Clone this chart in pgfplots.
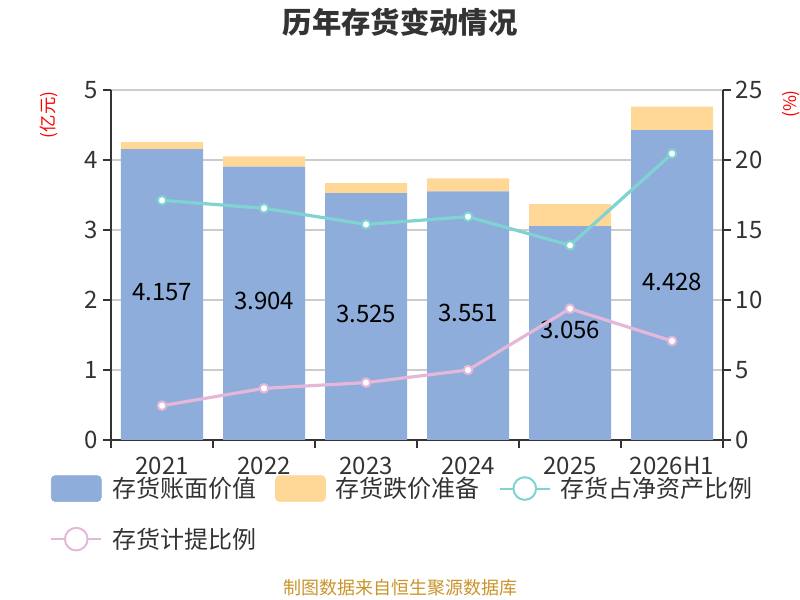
\documentclass[border=0pt]{standalone}
\usepackage{fontspec}
\setmainfont{Noto Sans CJK SC}
\usepackage{pgfplots}
\pgfplotsset{compat=1.18}
\usepackage{pgfplotstable}

\definecolor{barblue}{HTML}{8EADDA}
\definecolor{barorange}{HTML}{FFD897}
\definecolor{lineteal}{HTML}{80D3D3}
\definecolor{linepink}{HTML}{E5B8DA}
\definecolor{axisdark}{HTML}{333333}
\definecolor{gridgray}{HTML}{CCCCCC}
\definecolor{footcol}{HTML}{C9942B}

\pgfplotstableread{
x book prov
0 4.157 0.100
1 3.904 0.149
2 3.525 0.146
3 3.551 0.187
4 3.056 0.315
5 4.428 0.334
}\bars

\pgfplotstableread{
x share ratio
0 17.12 2.45
1 16.55 3.69
2 15.40 4.10
3 15.95 5.00
4 13.90 9.38
5 20.45 7.07
}\lines

\pgfplotsset{
  base/.style={
    scale only axis, width=459pt, height=262.5pt,
    at={(83.25pt,120pt)}, anchor=south west,
    xmin=-0.5, xmax=5.5,
    /pgf/number format/assume math mode=true,
    tick label style={font=\fontsize{18}{20}\selectfont, text=axisdark},
    tick align=outside,
    major tick length=6pt, minor tick length=6pt,
    tick style={axisdark, line width=1.5pt},
  }
}

\begin{document}
\begin{tikzpicture}
\path[use as bounding box] (0,0) rectangle (600pt,450pt);

% bars
\begin{axis}[base,
  ybar stacked, bar width=61.5pt,
  ymin=0, ymax=5, ytick={0,1,2,3,4,5},
  axis x line*=bottom, axis y line*=left,
  axis line style={-, axisdark, line width=1.5pt},
  xtick={0,1,2,3,4,5},
  xticklabels={2021,2022,2023,2024,2025,2026H1},
  major x tick style={draw=none},
  minor xtick={-0.5,0.5,1.5,2.5,3.5,4.5,5.5},
  xticklabel style={yshift=-3pt},
  ymajorgrids, grid style={gridgray, line width=1pt},
]
\addplot[fill=barblue, draw=none] table[x=x, y=book] {\bars};
\addplot[fill=barorange, draw=none] table[x=x, y=prov] {\bars};
\end{axis}

% value labels
\begin{axis}[base, hide axis, ymin=0, ymax=5]
\addplot[only marks, mark=none, nodes near coords,
  point meta=explicit symbolic,
  nodes near coords style={anchor=center, yshift=2pt, font=\fontsize{18}{20}\selectfont, text=black}]
  table[x=x, y expr=\thisrow{book}/2, meta=book] {\bars};
\end{axis}

% lines
\begin{axis}[base,
  ymin=0, ymax=25, ytick={0,5,10,15,20,25},
  axis y line*=right, axis x line=none,
  axis line style={-, axisdark, line width=1.5pt},
  legend columns=3, legend cell align=left,
  legend style={at={(axis description cs:-0.0997,-0.1)}, anchor=north west,
    draw=none, fill=none, inner sep=0pt,
    font=\fontsize{18}{20}\selectfont, text=axisdark,
    /tikz/every odd column/.append style={column sep=7.5pt},
    /tikz/every even column/.append style={column sep=14.25pt},
    row sep=18.75pt, nodes={inner sep=0pt}},
]
\addlegendimage{legend image code/.code={\fill[barblue, rounded corners=3pt] (0pt,-9.75pt) rectangle (37.5pt,9.75pt);}}
\addlegendimage{legend image code/.code={\fill[barorange, rounded corners=3pt] (0pt,-9.75pt) rectangle (37.5pt,9.75pt);}}
\addplot[lineteal, line width=2.4pt, mark=*, mark size=3.2pt,
  mark options={fill=white, draw=lineteal, line width=1.5pt},
  legend image code/.code={\draw[lineteal, line width=1.5pt] (0pt,0pt) -- (37.5pt,0pt); \draw[lineteal, line width=1.5pt, fill=white] (18.75pt,0pt) circle (8.5pt);}]
  table[x=x, y=share] {\lines};
\addplot[linepink, line width=2.4pt, mark=*, mark size=3.2pt,
  mark options={fill=white, draw=linepink, line width=1.5pt},
  legend image code/.code={\draw[linepink, line width=1.5pt] (0pt,0pt) -- (37.5pt,0pt); \draw[linepink, line width=1.5pt, fill=white] (18.75pt,0pt) circle (8.5pt);}]
  table[x=x, y=ratio] {\lines};
\legend{存货账面价值,存货跌价准备,存货占净资产比例,存货计提比例}
\end{axis}

\node[font=\fontsize{22}{24}\selectfont\bfseries, text=axisdark] at (300pt,433.5pt) {历年存货变动情况};
\node[font=\fontsize{13.5}{15}\selectfont, text=footcol] at (300pt,9pt) {制图数据来自恒生聚源数据库};
\node[rotate=90, font=\fontsize{13}{15}\selectfont, text=red] at (36.75pt,363.75pt) {(亿元)};
\node[rotate=90, font=\fontsize{13}{15}\selectfont, text=red] at (593.5pt,372pt) {(\%)};
\end{tikzpicture}
\end{document}
